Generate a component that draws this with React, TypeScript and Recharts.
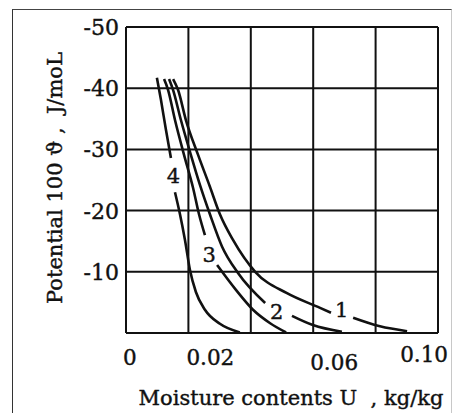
import {
  CartesianGrid,
  Label,
  Line,
  LineChart,
  ReferenceDot,
  XAxis,
  YAxis,
} from "recharts";

// moisture content U (kg/kg) vs potential 100ϑ (J/mol)
const curve1a = [
  { u: 0.0151, p: -41.5 }, { u: 0.0167, p: -39.7 }, { u: 0.0192, p: -34.8 },
  { u: 0.0231, p: -29.1 }, { u: 0.0269, p: -23.9 }, { u: 0.0301, p: -19.4 },
  { u: 0.0343, p: -15.2 }, { u: 0.0414, p: -10.0 }, { u: 0.0516, p: -6.5 },
  { u: 0.0622, p: -4.1 }, { u: 0.0657, p: -3.3 },
];
const curve1b = [
  { u: 0.0728, p: -2.5 }, { u: 0.0814, p: -1.1 }, { u: 0.0901, p: -0.3 },
];
const curve2a = [
  { u: 0.0138, p: -41.5 }, { u: 0.0151, p: -39.7 }, { u: 0.0176, p: -34.8 },
  { u: 0.0208, p: -29.1 }, { u: 0.0237, p: -24.2 }, { u: 0.0269, p: -19.4 },
  { u: 0.0308, p: -14.1 }, { u: 0.0359, p: -9.8 }, { u: 0.0446, p: -4.9 },
];
const curve2b = [
  { u: 0.0532, p: -2.8 }, { u: 0.0599, p: -1.3 }, { u: 0.0692, p: -0.2 },
];
const curve3a = [
  { u: 0.0122, p: -41.5 }, { u: 0.0135, p: -39.7 }, { u: 0.0157, p: -34.8 },
  { u: 0.0186, p: -29.1 }, { u: 0.0215, p: -23.7 }, { u: 0.0234, p: -19.4 },
  { u: 0.0253, p: -16.0 },
];
const curve3b = [
  { u: 0.0292, p: -11.1 }, { u: 0.0353, p: -7.0 }, { u: 0.0407, p: -3.8 },
  { u: 0.0462, p: -1.6 }, { u: 0.0513, p: -0.1 },
];
const curve4a = [
  { u: 0.0099, p: -41.7 }, { u: 0.0112, p: -38.1 }, { u: 0.0128, p: -33.2 },
  { u: 0.0144, p: -28.6 },
];
const curve4b = [
  { u: 0.0157, p: -23.0 }, { u: 0.0173, p: -19.4 }, { u: 0.0189, p: -15.2 },
  { u: 0.0205, p: -10.3 }, { u: 0.0224, p: -6.7 }, { u: 0.0253, p: -3.8 },
  { u: 0.0301, p: -1.5 }, { u: 0.0365, p: -0.1 },
];

const curveLabels = [
  { name: "1", u: 0.0691, p: -3.8 },
  { name: "2", u: 0.0483, p: -3.5 },
  { name: "3", u: 0.0267, p: -12.9 },
  { name: "4", u: 0.0152, p: -25.8 },
];

const xTicks = [0, 0.02, 0.04, 0.06, 0.08, 0.1];
const xTickLabels = ["0", "0.02", "", "0.06", "", "0.10"];
const yTicks = [-50, -40, -30, -20, -10, 0];
const yTickLabels = ["-50", "-40", "-30", "-20", "-10", ""];

const FONT = "'DejaVu Serif', serif";
const INK = "#111";
// thin outline on text to get the heavier look of the scanned print
const TEXT_STYLE = { fontFamily: FONT, fill: INK, stroke: INK, strokeWidth: 0.4 };

const segments = [curve1a, curve1b, curve2a, curve2b, curve3a, curve3b, curve4a, curve4b];

// the scan's x labels sit a bit off their grid lines
const xAnchor = ["start", "start", "middle", "start", "middle", "end"];
const xDx = [-3, -2, 0, -3, 0, 10];
const xDy = [32, 32, 0, 37, 0, 29];

// drop the default body margin so the chart covers the whole window
document.body.style.margin = "0";

function XTick(props: any) {
  const { x, y, payload } = props;
  const i = xTicks.indexOf(payload.value);
  if (i < 0 || !xTickLabels[i]) return null;
  return (
    <text
      x={x + xDx[i]}
      y={y + xDy[i]}
      textAnchor={xAnchor[i]}
      fontSize={21.5}
      {...TEXT_STYLE}
    >
      {xTickLabels[i]}
    </text>
  );
}

function YTick(props: any) {
  const { x, y, payload } = props;
  const i = yTicks.indexOf(payload.value);
  if (i < 0 || !yTickLabels[i]) return null;
  return (
    <text x={x} y={y + 8} textAnchor="end" fontSize={22} {...TEXT_STYLE}>
      {yTickLabels[i]}
    </text>
  );
}

export default function App() {
  return (
    <div
      style={{
        position: "relative",
        width: 456,
        height: 413,
        overflow: "hidden",
        background: "#fff",
      }}
    >
      <div
        style={{
          position: "absolute",
          left: 12,
          top: 9,
          width: 438,
          height: 420,
          borderLeft: "1.5px solid #333",
          borderTop: "1.5px solid #444",
          borderRight: "1.5px solid #c8c8c8",
        }}
      />
      <LineChart
        width={456}
        height={413}
        margin={{ top: 27, right: 18, left: 0, bottom: 0 }}
        style={{ position: "absolute", left: 0, top: 0 }}
      >
        <CartesianGrid stroke={INK} strokeWidth={2} />
        <XAxis
          dataKey="u"
          type="number"
          domain={[0, 0.1]}
          ticks={xTicks}
          allowDataOverflow
          height={80}
          tickSize={0}
          tickMargin={0}
          tickLine={false}
          axisLine={{ stroke: INK, strokeWidth: 2 }}
          tick={<XTick />}
        >
          <Label
            value={"Moisture contents U\u00a0\u00a0, kg/kg"}
            position="center"
            dx={9}
            dy={25}
            fontSize={21}
            {...TEXT_STYLE}
          />
        </XAxis>
        <YAxis
          dataKey="p"
          type="number"
          domain={[-50, 0]}
          reversed
          ticks={yTicks}
          allowDataOverflow
          width={126}
          tickSize={0}
          tickMargin={7}
          tickLine={false}
          axisLine={{ stroke: INK, strokeWidth: 2 }}
          tick={<YTick />}
        >
          <Label
            value={"Potential 100\u00a0\u03d1\u00a0,\u00a0\u00a0J/moL"}
            position="center"
            angle={-90}
            dx={-8}
            dy={-2}
            fontSize={21}
            {...TEXT_STYLE}
          />
        </YAxis>
        {segments.map((seg, i) => (
          <Line
            key={i}
            data={seg}
            dataKey="p"
            type="monotone"
            stroke={INK}
            strokeWidth={2.6}
            dot={false}
            isAnimationActive={false}
          />
        ))}
        {curveLabels.map((c) => (
          <ReferenceDot
            key={c.name}
            x={c.u}
            y={c.p}
            r={0}
            fill="none"
            stroke="none"
            label={{
              value: c.name,
              position: "center",
              fontSize: 21,
              ...TEXT_STYLE,
            }}
          />
        ))}
      </LineChart>
    </div>
  );
}
